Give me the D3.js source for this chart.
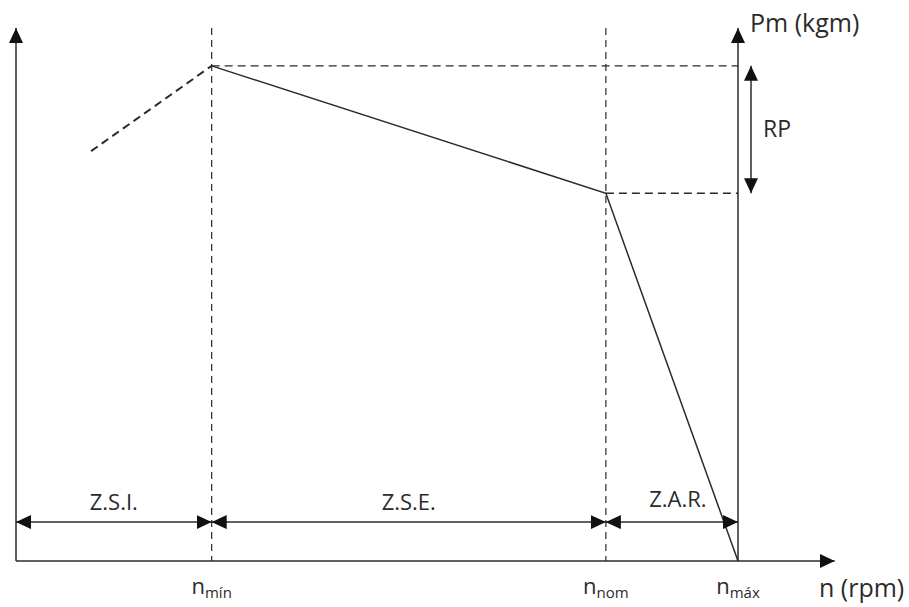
<!DOCTYPE html>
<html>
<head>
<meta charset="utf-8">
<script src="https://cdn.jsdelivr.net/npm/d3@7"></script>
<style>
  body { margin: 0; background: #fff; }
  text { font-family: "Open Sans", sans-serif; fill: #2b2b2b; }
</style>
</head>
<body>
<svg id="chart" width="909" height="607"></svg>
<script>
// curve of torque vs speed (arbitrary units, n in % of n_max, Pm in % of axis)
var curveN  = [27.1, 81.7, 100];
var curvePm = [92.9, 69.0, 0];
var dashN   = [10.4, 27.1];   // unstable zone, dashed
var dashPm  = [76.9, 92.9];
// speed marks on the x axis
var markN      = [27.1, 81.7, 100];
var markLabels = ["mín", "nom", "máx"];
// zones
var zoneStart  = [0, 27.1, 81.7];
var zoneEnd    = [27.1, 81.7, 100];
var zoneLabels = ["Z.S.I.", "Z.S.E.", "Z.A.R."];
var zoneY = 7.3;

var svg = d3.select("#chart");
var ink = "#2b2b2b";

var x = d3.scaleLinear().domain([0, 100]).range([16, 738]);
var y = d3.scaleLinear().domain([0, 100]).range([561, 28]);

// arrow head marker
var defs = svg.append("defs");
defs.append("marker")
  .attr("id", "head")
  .attr("markerUnits", "userSpaceOnUse")
  .attr("viewBox", "0 -7 15 14")
  .attr("refX", 15).attr("refY", 0)
  .attr("markerWidth", 15).attr("markerHeight", 14)
  .attr("orient", "auto-start-reverse")
  .append("path").attr("d", "M0,-7L15,0L0,7Z").attr("fill", "#111");

// dashed guide lines
markN.slice(0, 2).forEach(function (n) {
  svg.append("line")
    .attr("x1", x(n)).attr("x2", x(n))
    .attr("y1", y(100)).attr("y2", y(0))
    .attr("stroke", ink).attr("stroke-width", 1.2)
    .attr("stroke-dasharray", "7,5");
});
[0, 1].forEach(function (i) {
  svg.append("line")
    .attr("x1", x(curveN[i])).attr("x2", x(100))
    .attr("y1", y(curvePm[i])).attr("y2", y(curvePm[i]))
    .attr("stroke", ink).attr("stroke-width", 1.4)
    .attr("stroke-dasharray", "8,5");
});

// axes
svg.append("line")
  .attr("x1", x(0)).attr("x2", x(0)).attr("y1", y(0)).attr("y2", y(100))
  .attr("stroke", ink).attr("stroke-width", 1.5).attr("marker-end", "url(#head)");
svg.append("line")
  .attr("x1", x(100)).attr("x2", x(100)).attr("y1", y(0)).attr("y2", y(100))
  .attr("stroke", ink).attr("stroke-width", 1.5).attr("marker-end", "url(#head)");
svg.append("line")
  .attr("x1", x(0)).attr("x2", x(113.4)).attr("y1", y(0)).attr("y2", y(0))
  .attr("stroke", ink).attr("stroke-width", 1.5).attr("marker-end", "url(#head)");

// curve
var line = d3.line().x(function (d) { return x(d[0]); }).y(function (d) { return y(d[1]); });
svg.append("path")
  .attr("d", line(d3.zip(dashN, dashPm)))
  .attr("fill", "none").attr("stroke", ink).attr("stroke-width", 2)
  .attr("stroke-dasharray", "8,5");
svg.append("path")
  .attr("d", line(d3.zip(curveN, curvePm)))
  .attr("fill", "none").attr("stroke", ink).attr("stroke-width", 1.5);

// RP double arrow
svg.append("line")
  .attr("x1", x(100) + 13).attr("x2", x(100) + 13)
  .attr("y1", y(curvePm[0])).attr("y2", y(curvePm[1]))
  .attr("stroke", ink).attr("stroke-width", 1.5)
  .attr("marker-start", "url(#head)").attr("marker-end", "url(#head)");
svg.append("text")
  .attr("x", x(100) + 25).attr("y", 137)
  .attr("font-size", 23).text("RP");

// zone arrows
zoneLabels.forEach(function (lab, i) {
  svg.append("line")
    .attr("x1", x(zoneStart[i])).attr("x2", x(zoneEnd[i]))
    .attr("y1", y(zoneY)).attr("y2", y(zoneY))
    .attr("stroke", ink).attr("stroke-width", 1.5)
    .attr("marker-start", "url(#head)")
    .attr("marker-end", "url(#head)");
  svg.append("text")
    .attr("x", (x(zoneStart[i]) + x(zoneEnd[i])) / 2 + (i === 2 ? 6 : 0))
    .attr("y", i === 2 ? 507 : 510)
    .attr("text-anchor", "middle").attr("font-size", 22)
    .text(lab);
});

// speed labels
markLabels.forEach(function (lab, i) {
  var t = svg.append("text")
    .attr("x", x(markN[i])).attr("y", 594)
    .attr("text-anchor", "middle").attr("font-size", 22);
  t.append("tspan").text("n");
  t.append("tspan").attr("font-size", 15).attr("dy", 4).text(lab);
});

// axis titles
svg.append("text").attr("x", 819).attr("y", 597).attr("font-size", 25).text("n (rpm)");
svg.append("text").attr("x", 750).attr("y", 32).attr("font-size", 25).text("Pm (kgm)");
</script>
</body>
</html>
